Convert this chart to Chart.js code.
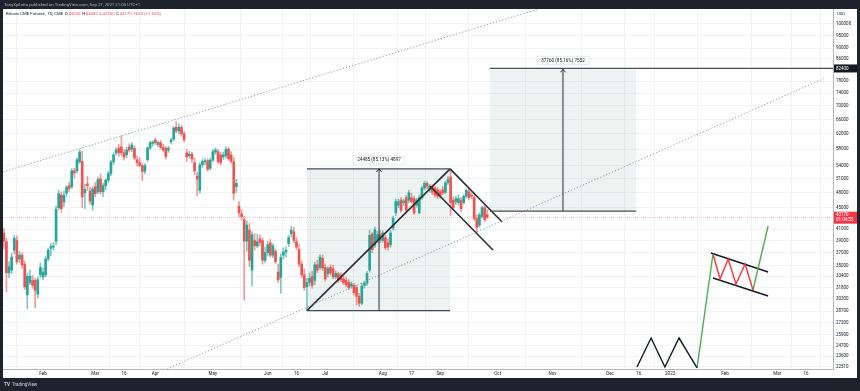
<!DOCTYPE html>
<html>
<head>
<meta charset="utf-8">
<title>Bitcoin CME Futures</title>
<script src="https://cdn.jsdelivr.net/npm/chart.js@4.4.1/dist/chart.umd.min.js"></script>
<style>
  html, body { margin: 0; padding: 0; background: #1e222d; overflow: hidden; }
  canvas { display: block; }
</style>
</head>
<body>
<canvas id="chart" width="860" height="391"></canvas>
<script>
// daily bars, Jan 11 - Sep 27 2021 (weekdays)
const barDates = [
  '2021-01-11','2021-01-12','2021-01-13','2021-01-14','2021-01-15','2021-01-18','2021-01-19','2021-01-20','2021-01-21','2021-01-22','2021-01-25','2021-01-26','2021-01-27','2021-01-28','2021-01-29',
  '2021-02-01','2021-02-02','2021-02-03','2021-02-04','2021-02-05','2021-02-08','2021-02-09','2021-02-10','2021-02-11','2021-02-12','2021-02-15','2021-02-16','2021-02-17','2021-02-18','2021-02-19','2021-02-22','2021-02-23','2021-02-24','2021-02-25','2021-02-26',
  '2021-03-01','2021-03-02','2021-03-03','2021-03-04','2021-03-05','2021-03-08','2021-03-09','2021-03-10','2021-03-11','2021-03-12','2021-03-15','2021-03-16','2021-03-17','2021-03-18','2021-03-19','2021-03-22','2021-03-23','2021-03-24','2021-03-25','2021-03-26','2021-03-29','2021-03-30','2021-03-31',
  '2021-04-01','2021-04-02','2021-04-05','2021-04-06','2021-04-07','2021-04-08','2021-04-09','2021-04-12','2021-04-13','2021-04-14','2021-04-15','2021-04-16','2021-04-19','2021-04-20','2021-04-21','2021-04-22','2021-04-23','2021-04-26','2021-04-27','2021-04-28','2021-04-29','2021-04-30',
  '2021-05-03','2021-05-04','2021-05-05','2021-05-06','2021-05-07','2021-05-10','2021-05-11','2021-05-12','2021-05-13','2021-05-14','2021-05-17','2021-05-18','2021-05-19','2021-05-20','2021-05-21','2021-05-24','2021-05-25','2021-05-26','2021-05-27','2021-05-28','2021-05-31',
  '2021-06-01','2021-06-02','2021-06-03','2021-06-04','2021-06-07','2021-06-08','2021-06-09','2021-06-10','2021-06-11','2021-06-14','2021-06-15','2021-06-16','2021-06-17','2021-06-18','2021-06-21','2021-06-22','2021-06-23','2021-06-24','2021-06-25','2021-06-28','2021-06-29','2021-06-30',
  '2021-07-01','2021-07-02','2021-07-05','2021-07-06','2021-07-07','2021-07-08','2021-07-09','2021-07-12','2021-07-13','2021-07-14','2021-07-15','2021-07-16','2021-07-19','2021-07-20','2021-07-21','2021-07-22','2021-07-23','2021-07-26','2021-07-27','2021-07-28','2021-07-29','2021-07-30',
  '2021-08-02','2021-08-03','2021-08-04','2021-08-05','2021-08-06','2021-08-09','2021-08-10','2021-08-11','2021-08-12','2021-08-13','2021-08-16','2021-08-17','2021-08-18','2021-08-19','2021-08-20','2021-08-23','2021-08-24','2021-08-25','2021-08-26','2021-08-27','2021-08-30','2021-08-31',
  '2021-09-01','2021-09-02','2021-09-03','2021-09-06','2021-09-07','2021-09-08','2021-09-09','2021-09-10','2021-09-13','2021-09-14','2021-09-15','2021-09-16','2021-09-17','2021-09-20','2021-09-21','2021-09-22','2021-09-23','2021-09-24','2021-09-27'
];

const openP = [
  40300,38800,33900,34300,37400,39000,36000,36600,35200,30800,32500,32800,32800,30900,33600,
  33300,33600,36000,37700,37900,38900,45000,47500,46100,47900,49500,49300,52800,52800,54900,55000,48000,49900,48400,45500,
  49300,48200,51000,48200,49500,50700,52200,54900,57100,58300,58600,57100,56600,58600,58000,58200,55400,54700,54000,52700,55400,58300,59500,
  60400,59200,59700,58500,58200,57800,59900,60600,63800,62800,63800,62000,57100,56400,56800,54700,51600,48500,54200,54900,55200,53400,
  55300,57300,57400,56600,56100,56400,58000,56600,54900,49300,45300,43800,42700,38900,40800,34300,39000,38100,39300,39000,35800,
  37000,38600,36600,37200,34000,33200,36600,37100,38500,40200,40500,38800,37500,35200,33600,31900,32500,33400,32800,35100,34700,36100,
  34700,33800,34700,34500,33300,33800,33500,33000,32800,32500,32000,32100,31800,30600,29700,32100,32400,34300,40100,38200,39100,40000,
  39000,39500,38600,38300,41200,44000,45500,46500,46000,47000,46500,47000,46800,45500,44000,47000,49000,50000,48600,49300,48900,48600,
  48200,48600,48100,50200,51400,46500,46200,46000,46500,46000,47300,48200,47500,47000,42900,41700,43300,45000,43635
];
const highP = [
  41100,39400,35600,36900,39900,39800,37200,37000,35600,33900,34300,33500,33100,33300,35400,
  34600,36400,37700,38500,38700,45300,48600,48200,48300,49500,50200,53300,53400,55900,57900,57500,49800,51600,49200,49300,
  50200,51400,52100,50000,51000,52700,55300,57100,58400,59200,61500,57900,58500,59400,59700,58900,56300,55900,54600,54500,58700,60100,60200,
  60900,60100,60300,59300,58700,58800,60800,64000,65300,64800,64300,62600,58000,57500,57200,55800,52500,54700,55600,55700,55600,55800,
  57900,58300,57900,57200,57300,58600,58500,57400,56000,50900,46200,44600,43300,42500,42000,40500,40200,40100,40000,39400,37900,
  38900,39200,38500,37600,35200,36800,37800,38000,39900,41500,41300,39500,38400,35700,34500,33100,33900,34100,35500,35800,36700,36600,
  35200,34800,35100,35000,34200,34000,33900,33500,33200,32900,32600,32400,32100,31000,32400,32700,34100,40800,40400,41400,40600,40800,
  40700,39900,39300,40800,43400,46700,46700,47000,46700,47500,48500,47900,47300,46900,47500,49400,50500,50400,49800,49700,49300,49100,
  48700,49300,50500,51600,53247,47200,47300,47600,47000,47600,48800,48700,48000,47400,43600,44000,45300,45400,44580
];
const lowP = [
  37600,31200,33200,33800,36800,35200,35400,34600,31500,29000,32200,31700,29100,30400,33200,
  32900,33300,35700,36500,37400,38300,44600,44100,45200,47300,48300,48900,51200,52300,54500,45000,44800,48500,45700,44500,
  47200,47800,47700,47200,48600,50200,51700,54300,56500,56200,56400,55300,55900,57300,57400,55400,53900,53800,50600,52100,55000,57900,58800,
  59200,58700,58100,57400,55600,57200,59300,60200,62300,62000,61400,59900,55000,55800,54800,51900,47400,47900,53600,54200,52700,53000,
  55000,56700,54400,54200,55500,55800,55200,54600,46500,48100,43200,42700,30100,37200,34800,32000,37400,37800,38100,35200,35400,
  36500,36300,36200,35300,32500,31000,36000,36300,38000,39600,38600,37500,34800,33200,31400,28760,32000,31700,32200,33900,34400,34200,
  32700,33300,33600,33000,33000,32500,32600,32200,31900,31500,31700,30800,29500,29300,29500,31700,32100,34000,37000,37800,38700,38600,
  38700,37500,37400,37900,40800,43500,45000,44100,45400,44100,46000,45900,43700,45100,43800,46700,48600,48800,48100,47600,47100,46800,
  46900,47600,47800,49800,43500,44600,45600,45500,44200,45700,46900,46600,46800,42500,40400,41300,43000,42300,42950
];
const closeP = [
  38900,33900,34800,36300,39400,35600,36600,35100,31900,33400,33400,32100,31400,32900,34700,
  34000,36000,37400,38000,38100,44700,47800,44800,47500,49200,48900,52800,52300,55400,57300,47200,48700,49500,46300,48800,
  47800,50800,48200,49500,50700,52200,54900,56600,57800,57100,57100,56100,57800,57800,59100,55800,54700,54000,52700,54000,58300,59700,59800,
  59700,59700,58500,57800,56200,58300,60400,63600,62800,63800,62000,60400,56100,56800,55600,52800,50900,54200,55000,55200,53200,55300,
  57400,57800,55000,54700,56600,58000,55700,55000,47900,50000,44000,43300,38900,41700,35800,40000,38100,38800,38700,35800,37000,
  38300,36600,38100,35600,32900,36200,37100,37400,39500,40800,39000,37900,35200,33600,31800,32500,33100,32100,35100,34300,36300,34600,
  33000,34500,33900,33300,33800,32800,32900,32500,32200,31800,32300,31100,30600,29700,32000,32400,33800,39900,37500,40900,40000,39100,
  40300,37800,37900,40300,43000,46200,46200,44500,46300,44500,48000,46200,44000,46500,47000,49000,50000,49300,49300,48100,47500,47300,
  47300,48000,50100,50800,46000,45000,46800,46800,44800,47300,48500,47000,47300,42900,41300,43600,45000,42700,43170
];

const xTickDates = ['2021-02-01','2021-03-01','2021-03-16','2021-04-01','2021-05-03','2021-06-01','2021-06-16','2021-07-01','2021-08-02','2021-08-17',
                    '2021-09-01','2021-10-01','2021-11-01','2021-12-01','2021-12-16','2022-01-03','2022-02-01','2022-03-01','2022-03-16'];
const xTickText = ['Feb','Mar','16','Apr','May','Jun','16','Jul','Aug','17','Sep','Oct','Nov','Dec','16','2022','Feb','Mar','16'];
const yTicks = [100000,95000,90000,86000,78000,74000,70000,66000,62000,58000,54000,51000,48000,45000,
                41000,39000,37000,35000,33400,31800,30300,28700,27300,25900,24700,23600,22510];

const lastPrice = 43170;
const targetPrice = 82400;

// drawings: [trading day index from Feb 1 2021, price]
const upperChannel = [[-15.3, 52550], [189.8, 106740]];
const lowerChannel = [[47.5, 22310], [299.3, 79070]];
const flagPole = [[101, 28762], [155.8, 53247]];
const flagTop = [[155.8, 53247], [175.7, 42280]];
const flagBottom = [[148.1, 49440], [172.2, 37430]];
const targetRay = [[171.1, targetPrice], [302.3, targetPrice]];
const sketchBase = [[227.3, 22510], [232.7, 25530], [238.0, 22510], [243.4, 25530], [250.3, 22420]];
const sketchPole = [[250.3, 22420], [256.4, 36790]];
const sketchFlag = [[256.4, 36790], [259.1, 33000], [262.2, 36000], [265.2, 32290], [268.7, 35220], [271.7, 31460]];
const sketchBreak = [[271.7, 31460], [277.5, 41550]];
const sketchTop = [[255.6, 36950], [277.5, 34020]];
const sketchBottom = [[256.4, 33140], [277.5, 30650]];

const priceRanges = [
  { from: 101, to: 155.8, low: 28762, high: 53247, arrowAt: 128.6, text: '24485 (85.13%) 4897', top: true },
  { from: 171.1, to: 227.0, low: 44340, high: 82100, arrowAt: 199, text: '37760 (85.16%) 7552', top: false }
];

const FONT = 'Roboto, "DejaVu Sans", sans-serif';
const UP = '#26a69a', DOWN = '#ef5350';

function tradingIndex(s) {
  const base = Date.UTC(2021, 1, 1);
  const [y, m, d] = s.split('-').map(Number);
  const days = Math.round((Date.UTC(y, m - 1, d) - base) / 864e5);
  let n = 0;
  if (days >= 0) {
    for (let k = 0; k < days; k++) { const wd = new Date(base + k * 864e5).getUTCDay(); if (wd && wd !== 6) n++; }
  } else {
    for (let k = -1; k >= days; k--) { const wd = new Date(base + k * 864e5).getUTCDay(); if (wd && wd !== 6) n--; }
  }
  return n;
}

const barX = barDates.map(tradingIndex);
const xTickPos = xTickDates.map(tradingIndex);
const isUp = closeP.map((c, i) => c >= openP[i]);

function lineSet(points, color, width, dash) {
  return {
    type: 'line',
    data: points.map(([x, y]) => ({ x, y })),
    borderColor: color, borderWidth: width, borderDash: dash || [],
    pointRadius: 0, fill: false, tension: 0, order: 0
  };
}

const tvDraw = {
  id: 'tvDraw',
  beforeDraw(chart) {
    const { ctx } = chart;
    ctx.save();
    ctx.fillStyle = '#1e222d';
    ctx.fillRect(0, 0, chart.width, chart.height);
    ctx.fillStyle = '#ffffff';
    ctx.fillRect(3, 9, 854, 369);
    ctx.restore();
  },
  beforeDatasetsDraw(chart) {
    const { ctx, chartArea: a, scales: { x, y } } = chart;
    ctx.save();
    ctx.beginPath(); ctx.rect(a.left, a.top, a.right - a.left, a.bottom - a.top); ctx.clip();
    ctx.fillStyle = 'rgba(90,150,125,0.11)';
    priceRanges.forEach(r => {
      const x0 = x.getPixelForValue(r.from), x1 = x.getPixelForValue(r.to);
      const y0 = y.getPixelForValue(r.high), y1 = y.getPixelForValue(r.low);
      ctx.fillRect(x0, y0, x1 - x0, y1 - y0);
    });
    const py = Math.round(y.getPixelForValue(lastPrice)) + 0.5;
    ctx.strokeStyle = 'rgba(242,54,69,0.28)'; ctx.lineWidth = 1;
    ctx.setLineDash([1, 1]);
    ctx.beginPath(); ctx.moveTo(a.left, py); ctx.lineTo(a.right, py); ctx.stroke();
    ctx.restore();
  },
  afterDatasetsDraw(chart) {
    const { ctx, scales: { x, y } } = chart;
    ctx.save();
    priceRanges.forEach(r => {
      const x0 = x.getPixelForValue(r.from), x1 = x.getPixelForValue(r.to);
      const yt = y.getPixelForValue(r.high), yb = y.getPixelForValue(r.low);
      const xa = x.getPixelForValue(r.arrowAt);
      ctx.strokeStyle = '#4a4d57'; ctx.lineWidth = 1.3;
      ctx.beginPath();
      ctx.moveTo(x0, yb); ctx.lineTo(x1, yb);
      if (r.top) { ctx.moveTo(x0, yt); ctx.lineTo(x1, yt); }
      ctx.stroke();
      ctx.strokeStyle = '#2a2e39'; ctx.lineWidth = 1;
      ctx.beginPath();
      ctx.moveTo(xa, yb); ctx.lineTo(xa, yt);
      ctx.moveTo(xa - 2.5, yt + 3); ctx.lineTo(xa, yt); ctx.lineTo(xa + 2.5, yt + 3);
      ctx.stroke();
      ctx.font = '4.6px ' + FONT;
      const w = ctx.measureText(r.text).width + 8;
      const cy = yt - 9;
      ctx.fillStyle = '#ffffff'; ctx.strokeStyle = '#e0e3eb'; ctx.lineWidth = 0.8;
      ctx.beginPath(); ctx.rect(xa - w / 2, cy - 4, w, 8); ctx.fill(); ctx.stroke();
      ctx.fillStyle = '#131722'; ctx.textAlign = 'center'; ctx.textBaseline = 'middle';
      ctx.fillText(r.text, xa, cy + 0.3);
    });
    ctx.restore();
  },
  afterDraw(chart) {
    const { ctx, scales: { y }, chartArea: a } = chart;
    ctx.save();
    ctx.textBaseline = 'middle'; ctx.textAlign = 'left';
    // header
    ctx.font = '4.3px ' + FONT; ctx.fillStyle = '#b2b5be';
    ctx.fillText('TonyXpilotto published on TradingView.com, Sep 27, 2021 21:05 UTC+1', 4, 4.8);
    // legend
    const parts = [
      ['Bitcoin CME Futures, ', '#131722'], ['1D, CME ', '#131722'],
      ['O', '#131722'], ['43635 ', DOWN], ['H', '#131722'], ['44580 ', DOWN],
      ['L', '#131722'], ['42950 ', DOWN], ['C', '#131722'], ['43170 ', DOWN], ['+660 (+1.55%)', DOWN]
    ];
    ctx.font = '4.3px ' + FONT;
    let lx = 6;
    parts.forEach(([t, c]) => { ctx.fillStyle = c; ctx.fillText(t, lx, 14); lx += ctx.measureText(t).width + 0.6; });
    // axis currency
    ctx.font = '4.3px ' + FONT; ctx.fillStyle = '#131722';
    ctx.fillText('USD', a.right + 4, 13.5);
    // target label
    const ty = y.getPixelForValue(targetPrice);
    ctx.fillStyle = '#131722'; ctx.fillRect(a.right + 1, ty - 4, 23, 8);
    ctx.fillStyle = '#ffffff'; ctx.font = '4.5px ' + FONT;
    ctx.fillText(String(targetPrice), a.right + 3, ty + 0.3);
    // last price label
    const ly = y.getPixelForValue(lastPrice);
    ctx.fillStyle = '#f23645'; ctx.fillRect(a.right + 1, ly - 5.5, 23, 12);
    ctx.fillStyle = '#ffffff';
    ctx.fillText(String(lastPrice), a.right + 3, ly - 2.3);
    ctx.fillText('01:04:55', a.right + 3, ly + 2.9);
    // footer
    ctx.font = 'bold 4.6px ' + FONT; ctx.fillStyle = '#d1d4dc';
    ctx.fillText('TV', 4, 385);
    ctx.font = '4.6px ' + FONT;
    ctx.fillText('TradingView', 12, 385);
    ctx.restore();
  }
};

new Chart(document.getElementById('chart'), {
  type: 'bar',
  data: {
    datasets: [
      lineSet(upperChannel, '#9598a1', 1, [1.2, 2]),
      lineSet(lowerChannel, '#9598a1', 1, [1.2, 2]),
      lineSet(flagPole, '#2a2e39', 1.6),
      lineSet(flagTop, '#2a2e39', 1.6),
      lineSet(flagBottom, '#2a2e39', 1.6),
      lineSet(targetRay, '#4a4d57', 1.3),
      lineSet(sketchBase, '#131722', 1.4),
      lineSet(sketchPole, '#4caf50', 1.4),
      lineSet(sketchFlag, '#f23645', 1.4),
      lineSet(sketchBreak, '#4caf50', 1.4),
      lineSet(sketchTop, '#131722', 1.4),
      lineSet(sketchBottom, '#131722', 1.4),
      {
        label: 'body',
        data: barX.map((x, i) => ({ x, y: [openP[i], closeP[i]] })),
        backgroundColor: isUp.map(u => u ? UP : DOWN),
        barThickness: 2, minBarLength: 1, grouped: false, order: 2
      },
      {
        label: 'wick',
        data: barX.map((x, i) => ({ x, y: [lowP[i], highP[i]] })),
        backgroundColor: isUp.map(u => u ? 'rgba(38,166,154,0.6)' : 'rgba(239,83,80,0.6)'),
        barThickness: 1, grouped: false, order: 3
      }
    ]
  },
  options: {
    responsive: false,
    animation: false,
    devicePixelRatio: 1,
    layout: { padding: { left: 3, top: 9, right: 3, bottom: 13 } },
    plugins: { legend: { display: false }, tooltip: { enabled: false } },
    scales: {
      x: {
        type: 'linear', min: -15.31, max: 302.33, offset: false,
        grid: { color: '#f0f3fa', drawTicks: false },
        border: { color: '#b2b5be' },
        ticks: {
          autoSkip: false, maxRotation: 0, padding: 2, color: '#131722',
          font: { size: 4.5, family: FONT },
          callback: v => { const k = xTickPos.indexOf(v); return k >= 0 ? xTickText[k] : ''; }
        },
        afterBuildTicks: s => { s.ticks = xTickPos.map(v => ({ value: v })); },
        afterFit: s => { s.height = 9; }
      },
      y: {
        type: 'logarithmic', position: 'right', min: 22315, max: 106700,
        grid: { color: '#f0f3fa', drawTicks: false },
        border: { color: '#b2b5be' },
        ticks: {
          padding: 3, color: '#131722',
          font: { size: 4.5, family: FONT },
          callback: v => String(v)
        },
        afterBuildTicks: s => { s.ticks = yTicks.map(v => ({ value: v })); },
        afterFit: s => { s.width = 24; }
      }
    }
  },
  plugins: [tvDraw]
});
</script>
</body>
</html>
